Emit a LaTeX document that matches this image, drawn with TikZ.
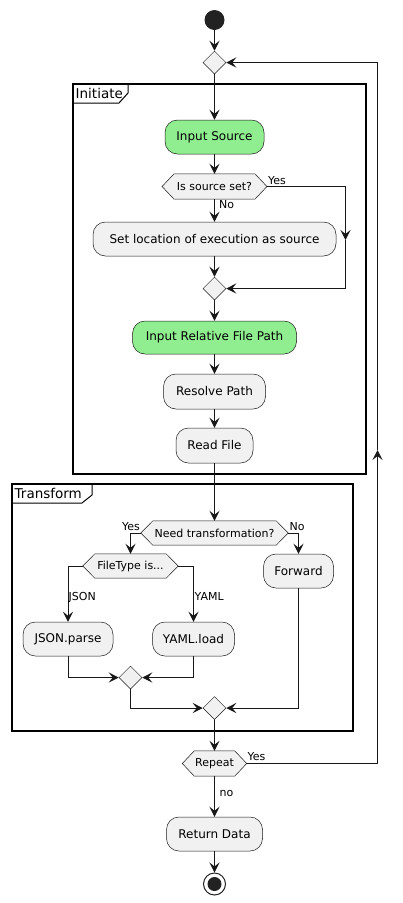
\documentclass[tikz,border=0pt]{standalone}
\usepackage{fontspec}
\setmainfont{DejaVu Sans}
\usetikzlibrary{arrows.meta,backgrounds,shapes.geometric}
\definecolor{actfill}{HTML}{F1F1F1}
\definecolor{actgreen}{HTML}{90EE90}
\definecolor{ink}{HTML}{181818}
\definecolor{dot}{HTML}{222222}
\newcommand\drawhexa[1]{\draw[hexshape] (#1.west) -- ([xshift=12pt]#1.north west) -- ([xshift=-12pt]#1.north east) -- (#1.east) -- ([xshift=-12pt]#1.south east) -- ([xshift=12pt]#1.south west) -- cycle;}
\begin{document}
\begin{tikzpicture}[x=1pt,y=-1pt,
  act/.style={draw=ink, line width=0.5pt, fill=actfill, rounded corners=12.5pt, inner sep=0pt, font=\fontsize{12}{14}\selectfont},
  actg/.style={act, fill=actgreen},
  hexlabel/.style={inner sep=0pt, font=\fontsize{11}{13}\selectfont},
  hexshape/.style={draw=ink, line width=0.5pt, fill=actfill},
  merge/.style={draw=ink, line width=0.5pt, fill=actfill, shape=diamond, minimum width=23pt, minimum height=23pt, inner sep=0pt},
  arr/.style={draw=ink, line width=1pt, -{Stealth[length=10pt,width=10pt,inset=4pt]}},
  conn/.style={draw=ink, line width=1pt},
  lbl/.style={font=\fontsize{11}{13}\selectfont, inner sep=0pt},
  frameline/.style={draw=black, line width=1.5pt},
  tabline/.style={draw=black, line width=1pt},
  tabtext/.style={font=\fontsize{13.5}{16}\selectfont, inner sep=0pt, anchor=west}
]
\useasboundingbox (0,0) rectangle (402,903);

% nodes
\node[circle, fill=dot, minimum size=20pt, inner sep=0pt] (start) at (214.5,20) {};
\node[merge] (m0) at (214.5,62.5) {};
\node[actg, minimum width=99pt, minimum height=34pt] (s1) at (214.5,137) {Input Source};
\node[hexlabel, minimum width=104.5pt, minimum height=25pt] (q1) at (214.5,186.5) {Is source set?};
\node[act, minimum width=243pt, minimum height=34pt] (s2) at (214.5,239) {Set location of execution as source};
\node[merge] (m1) at (214.5,288.5) {};
\node[actg, minimum width=164pt, minimum height=33pt] (s3) at (214.5,337.5) {Input Relative File Path};
\node[act, minimum width=102pt, minimum height=35pt] (s4) at (214.5,391.5) {Resolve Path};
\node[act, minimum width=77pt, minimum height=35pt] (s5) at (214.5,445.5) {Read File};
\node[hexlabel, minimum width=147pt, minimum height=24pt] (q2) at (214.5,533) {Need transformation?};
\node[hexlabel, minimum width=95pt, minimum height=24pt] (q3) at (130.5,566) {FileType is...};
\node[act, minimum width=90pt, minimum height=34pt] (s6) at (68,639) {JSON.parse};
\node[act, minimum width=82pt, minimum height=34pt] (s7) at (193.5,639) {YAML.load};
\node[act, minimum width=70pt, minimum height=34pt] (s8) at (298.5,571) {Forward};
\node[merge] (m2) at (130.5,677.5) {};
\node[merge] (m3) at (214.5,708) {};
\node[hexlabel, minimum width=64pt, minimum height=25pt] (q4) at (214.5,763.5) {Repeat};
\node[act, minimum width=96pt, minimum height=34pt] (s9) at (214.5,834) {Return Data};
\node[circle, draw=dot, line width=1pt, fill=white, minimum size=22pt, inner sep=0pt] (end) at (214.5,884) {};
\node[circle, fill=dot, minimum size=14pt, inner sep=0pt] (endin) at (end) {};

% frames and hexagons behind
\begin{scope}[on background layer]
  \draw[frameline] (73,84) rectangle (366,474);
  \draw[tabline] (128,84) -- (128,93) -- (119,103) -- (73,103);
  \draw[frameline] (12,484) rectangle (353,731);
  \draw[tabline] (92,484) -- (92,495) -- (82,503) -- (12,503);
  \drawhexa{q1}
  \drawhexa{q2}
  \drawhexa{q3}
  \drawhexa{q4}
\end{scope}
\node[tabtext] (t1) at (75.5,93.5) {Initiate};
\node[tabtext] (t2) at (14.5,493.5) {Transform};

% coordinates
\coordinate (y1a) at (345.5,186.5);
\coordinate (y1b) at (345.5,240);
\coordinate (y1c) at (345.5,288.5);
\coordinate (lp1) at (377.5,763.5);
\coordinate (lpA) at (377.5,450);
\coordinate (lp2) at (377.5,62.5);

% connectors
\draw[arr] (start) -- (m0);
\draw[arr] (m0) -- (s1);
\draw[arr] (s1) -- (q1);
\draw[arr] (q1) -- (s2);
\draw[arr] (q1.east) -- (y1a) -- (y1b);
\draw[arr] (y1b) -- (y1c) -- (m1.east);
\draw[arr] (s2) -- (m1);
\draw[arr] (m1) -- (s3);
\draw[arr] (s3) -- (s4);
\draw[arr] (s4) -- (s5);
\draw[arr] (s5) -- (q2);
\draw[arr] (q2.west) -| (q3.north);
\draw[arr] (q2.east) -| (s8.north);
\draw[arr] (q3.west) -| (s6.north);
\draw[arr] (q3.east) -| (s7.north);
\draw[arr] (s6.south) |- (m2.west);
\draw[arr] (s7.south) |- (m2.east);
\draw[arr] (m2.south) |- (m3.west);
\draw[arr] (s8.south) |- (m3.east);
\draw[arr] (m3) -- (q4);
\draw[arr] (q4) -- (s9);
\draw[arr] (s9) -- (end);
\draw[arr] (q4.east) -- (lp1) -- (lpA);
\draw[arr] (lpA) -- (lp2) -- (m0.east);

% labels
\node[lbl, anchor=base west] (l1) at (268,184.5) {Yes};
\node[lbl, anchor=base west] (l2) at (219,208) {No};
\node[lbl, anchor=base east] (l3) at (140,530) {Yes};
\node[lbl, anchor=base west] (l4) at (289.5,530) {No};
\node[lbl, anchor=base west] (l5) at (68.5,600) {JSON};
\node[lbl, anchor=base west] (l6) at (194.5,600) {YAML};
\node[lbl, anchor=base west] (l7) at (247.5,760.5) {Yes};
\node[lbl, anchor=base west] (l8) at (219.5,796.5) {no};
\end{tikzpicture}
\end{document}
